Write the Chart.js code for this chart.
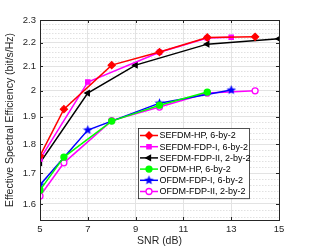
<!DOCTYPE html>
<html>
<head>
<meta charset="utf-8">
<script src="https://cdn.jsdelivr.net/npm/chart.js@4.4.0/dist/chart.umd.min.js"></script>
<style>
  html, body { margin: 0; padding: 0; background: #fff; }
  #wrap { width: 309px; height: 250px; }
</style>
</head>
<body>
<div id="wrap"><canvas id="chart" width="309" height="250"></canvas></div>
<script>
// Данные
const xTicks = [5, 7, 9, 11, 13, 15];
const yTicks = [1.6, 1.7, 1.8, 1.9, 2, 2.1, 2.2, 2.3];
const yMinor = [1.56, 1.58, 1.62, 1.64, 1.66, 1.68, 1.72, 1.74, 1.76, 1.78, 1.82, 1.84, 1.86, 1.88,
                1.92, 1.94, 1.96, 1.98, 2.02, 2.04, 2.06, 2.08, 2.12, 2.14, 2.16, 2.18, 2.22, 2.24, 2.26, 2.28];

const snrSefdmHp = [5, 6, 8, 10, 12, 14];
const effSefdmHp = [1.759, 1.929, 2.104, 2.159, 2.222, 2.225];

const snrSefdmFdp1 = [5, 7, 10, 12, 13];
const effSefdmFdp1 = [1.748, 2.035, 2.158, 2.220, 2.223];

const snrSefdmFdp2 = [5, 7, 9, 12, 15];
const effSefdmFdp2 = [1.735, 1.991, 2.104, 2.193, 2.216];

const snrOfdmHp = [5, 6, 8, 10, 12];
const effOfdmHp = [1.644, 1.755, 1.884, 1.944, 1.995];

const snrOfdmFdp1 = [5, 7, 10, 13];
const effOfdmFdp1 = [1.661, 1.851, 1.952, 2.003];

const snrOfdmFdp2 = [5, 6, 8, 10, 12, 14];
const effOfdmFdp2 = [1.625, 1.735, 1.886, 1.937, 1.991, 2.000];

function toPoints(xs, ys) {
    return xs.map((x, i) => ({ x: x, y: ys[i] }));
}

// Пятиконечная звезда для маркера
function makeStar(color) {
    const c = document.createElement('canvas');
    c.width = 11; c.height = 11;
    const g = c.getContext('2d');
    g.fillStyle = color;
    g.beginPath();
    for (let i = 0; i < 10; i++) {
        const r = i % 2 === 0 ? 5 : 2.2;
        const a = -Math.PI / 2 + i * Math.PI / 5;
        const px = 5.5 + r * Math.cos(a), py = 5.5 + r * Math.sin(a);
        if (i === 0) g.moveTo(px, py); else g.lineTo(px, py);
    }
    g.closePath();
    g.fill();
    return c;
}

function series(label, xs, ys, color, style, fill, extra) {
    return Object.assign({
        label: label,
        data: toPoints(xs, ys),
        borderColor: color,
        backgroundColor: color,
        pointBackgroundColor: fill,
        pointBorderColor: color,
        pointStyle: style,
        pointRadius: 3,
        pointBorderWidth: 1.3,
        borderWidth: 1.5,
        tension: 0
    }, extra || {});
}

const datasets = [
    series('SEFDM-HP, 6-by-2', snrSefdmHp, effSefdmHp, '#ff0000', 'rectRot', '#ff0000', { pointRadius: 3.5 }),
    series('SEFDM-FDP-I, 6-by-2', snrSefdmFdp1, effSefdmFdp1, '#ff00ff', 'rect', '#ff00ff'),
    series('SEFDM-FDP-II, 2-by-2', snrSefdmFdp2, effSefdmFdp2, '#000000', 'triangle', '#000000', { pointRotation: -90 }),
    series('OFDM-HP, 6-by-2', snrOfdmHp, effOfdmHp, '#00ff00', 'circle', '#00ff00'),
    series('OFDM-FDP-I, 6-by-2', snrOfdmFdp1, effOfdmFdp1, '#0000ff', makeStar('#0000ff'), '#0000ff'),
    series('OFDM-FDP-II, 2-by-2', snrOfdmFdp2, effOfdmFdp2, '#ff00ff', 'circle', '#ffffff')
];

// Мелкая пунктирная сетка и рамка осей
const boxPlugin = {
    id: 'box',
    beforeDatasetsDraw(chart) {
        const ctx = chart.ctx, a = chart.chartArea, y = chart.scales.y;
        ctx.save();
        ctx.strokeStyle = '#d4d4d4';
        ctx.lineWidth = 0.7;
        ctx.setLineDash([1.5, 1.5]);
        yMinor.forEach(v => {
            const py = Math.round(y.getPixelForValue(v)) + 0.5;
            ctx.beginPath();
            ctx.moveTo(a.left, py);
            ctx.lineTo(a.right, py);
            ctx.stroke();
        });
        ctx.restore();
    },
    afterDraw(chart) {
        const ctx = chart.ctx, a = chart.chartArea;
        ctx.save();
        ctx.strokeStyle = '#262626';
        ctx.lineWidth = 1;
        ctx.strokeRect(Math.round(a.left) + 0.5, Math.round(a.top) + 0.5,
                       Math.round(a.right - a.left), Math.round(a.bottom - a.top));
        // внутренние засечки
        const x = chart.scales.x, y = chart.scales.y;
        ctx.beginPath();
        xTicks.forEach(v => {
            const px = Math.round(x.getPixelForValue(v)) + 0.5;
            ctx.moveTo(px, a.bottom); ctx.lineTo(px, a.bottom - 3);
            ctx.moveTo(px, a.top); ctx.lineTo(px, a.top + 3);
        });
        yTicks.forEach(v => {
            const py = Math.round(y.getPixelForValue(v)) + 0.5;
            ctx.moveTo(a.left, py); ctx.lineTo(a.left + 3, py);
            ctx.moveTo(a.right, py); ctx.lineTo(a.right - 3, py);
        });
        ctx.stroke();
        ctx.restore();
    }
};

// Легенда внутри области графика
const legendPlugin = {
    id: 'innerLegend',
    afterDraw(chart) {
        const ctx = chart.ctx;
        const left = 138, top = 128, w = 111, rowH = 11.2;
        const h = rowH * datasets.length + 3;
        ctx.save();
        ctx.fillStyle = '#ffffff';
        ctx.fillRect(left, top, w, h);
        ctx.strokeStyle = '#262626';
        ctx.lineWidth = 0.8;
        ctx.strokeRect(left + 0.5, top + 0.5, w, h);
        ctx.font = '9px "Liberation Sans", Arial, sans-serif';
        ctx.textBaseline = 'middle';
        datasets.forEach((ds, i) => {
            const cy = top + 7.5 + i * rowH;
            ctx.strokeStyle = ds.borderColor;
            ctx.lineWidth = 1.5;
            ctx.beginPath();
            ctx.moveTo(left + 2, cy);
            ctx.lineTo(left + 20, cy);
            ctx.stroke();
            ctx.fillStyle = ds.pointBackgroundColor;
            ctx.strokeStyle = ds.pointBorderColor;
            ctx.lineWidth = 1.3;
            Chart.helpers.drawPoint(ctx, {
                pointStyle: ds.pointStyle,
                radius: ds.pointRadius,
                rotation: ds.pointRotation || 0,
                borderWidth: 1.3
            }, left + 11, cy);
            ctx.fillStyle = '#000000';
            ctx.fillText(ds.label, left + 21.5, cy + 0.5);
        });
        ctx.restore();
    }
};

const tickFont = { family: '"Liberation Sans", Arial, sans-serif', size: 9.5 };
const titleFont = { family: '"Liberation Sans", Arial, sans-serif', size: 10.5 };

new Chart(document.getElementById('chart'), {
    type: 'line',
    data: { datasets: datasets },
    options: {
        responsive: false,
        animation: false,
        layout: { padding: { left: 0, right: 30, top: 20, bottom: 0 } },
        plugins: { legend: { display: false }, tooltip: { enabled: false } },
        scales: {
            x: {
                type: 'linear',
                min: 5,
                max: 15,
                afterBuildTicks: s => { s.ticks = xTicks.map(v => ({ value: v })); },
                afterFit: s => { s.height = 30; },
                ticks: { font: tickFont, color: '#262626', padding: 4 },
                grid: { color: '#e3e3e3', drawTicks: false },
                border: { display: false },
                title: { display: true, text: 'SNR (dB)', font: titleFont, color: '#262626', padding: { top: 0, bottom: 3 } }
            },
            y: {
                type: 'logarithmic',
                min: 1.55,
                max: 2.3,
                afterBuildTicks: s => { s.ticks = yTicks.map(v => ({ value: v })); },
                afterFit: s => { s.width = 40; },
                ticks: { font: tickFont, color: '#262626', padding: 4, callback: v => String(Math.round(v * 10) / 10) },
                grid: { color: '#e3e3e3', drawTicks: false },
                border: { display: false },
                title: { display: true, text: 'Effective Spectral Efficiency (bit/s/Hz)', font: titleFont, color: '#262626', padding: { top: 4, bottom: 0 } }
            }
        }
    },
    plugins: [boxPlugin, legendPlugin]
});
</script>
</body>
</html>
